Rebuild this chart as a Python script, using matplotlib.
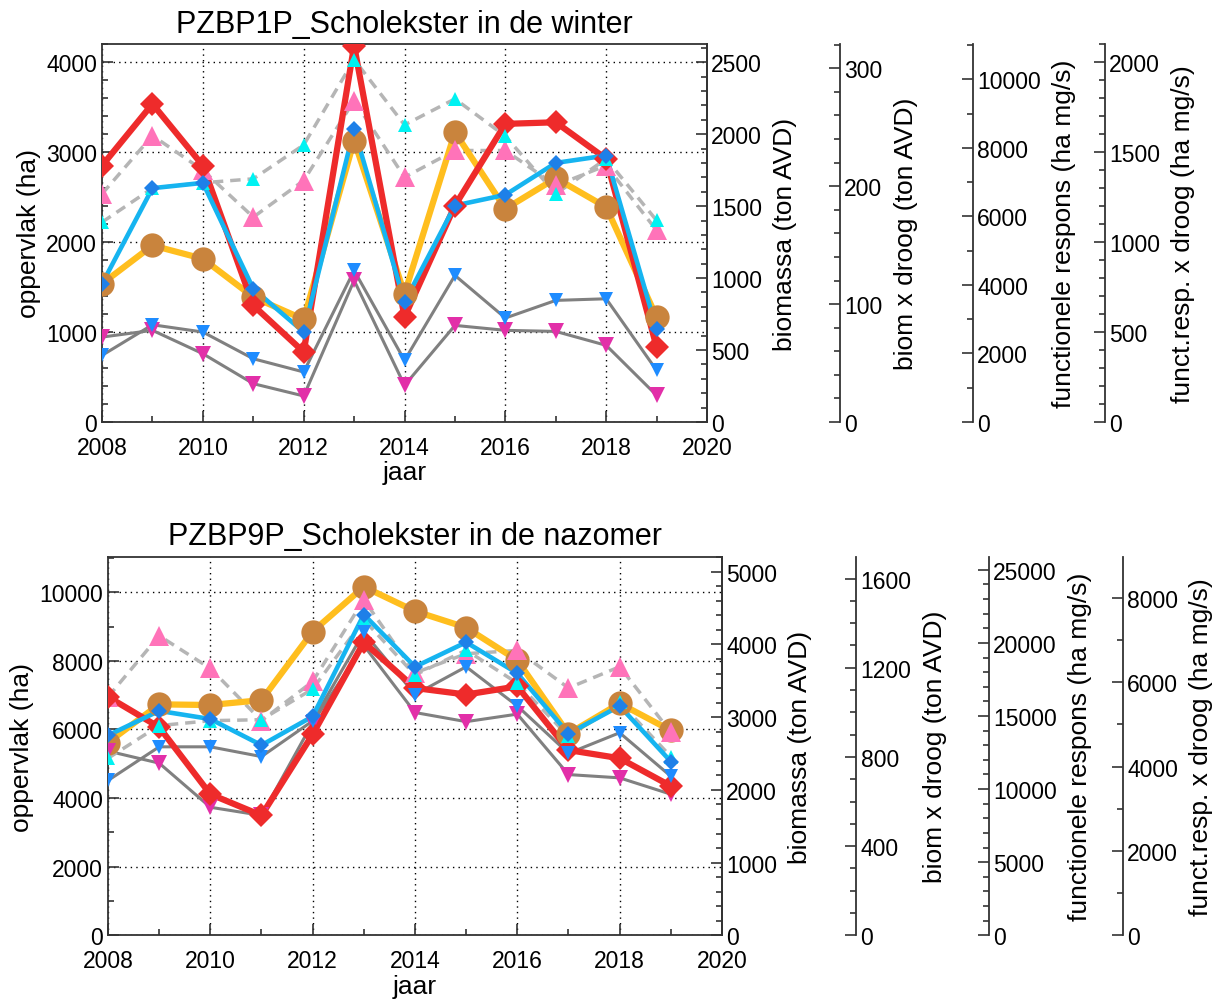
import matplotlib
matplotlib.use("Agg")
import matplotlib.pyplot as plt
from matplotlib.ticker import MultipleLocator

plt.rcParams['font.family'] = ['Liberation Sans', 'DejaVu Sans']

# ---- data (in units of the left axis) ----
years = list(range(2008, 2020))

# winter (PZBP1P)
red_w    = [2851, 3537, 2851, 1296, 778, 4185, 1167, 2407, 3315, 3333, 2926, 833]
blue_w   = [1537, 2600, 2659, 1481, 1000, 3259, 1333, 2407, 2526, 2881, 2963, 1030]
orange_w = [1537, 1963, 1815, 1389, 1141, 3130, 1426, 3222, 2370, 2711, 2389, 1167]
btri_w   = [741, 1081, 1000, 703, 556, 1685, 685, 1630, 1156, 1352, 1370, 574]
mtri_w   = [944, 1019, 759, 426, 289, 1574, 407, 1074, 1019, 1007, 852, 296]
cyan_w   = [2222, 2600, 2660, 2704, 3081, 4030, 3304, 3593, 3178, 2537, 2926, 2241]
pink_w   = [2537, 3185, 2800, 2278, 2685, 3574, 2722, 3019, 3019, 2630, 2852, 2130]

# nazomer (PZBP9P)
red_s    = [6952, 6067, 4114, 3495, 5857, 8543, 7210, 7019, 7257, 5400, 5162, 4352]
blue_s   = [5829, 6543, 6305, 5543, 6381, 9352, 7829, 8543, 7638, 5876, 6686, 5067]
orange_s = [5619, 6733, 6714, 6857, 8857, 10162, 9450, 8971, 8019, 5876, 6762, 5971]
btri_s   = [4514, 5495, 5495, 5210, 6250, 8829, 7019, 7829, 6686, 5305, 5905, 4638]
mtri_s   = [5371, 5019, 3733, 3495, 6200, 8450, 6495, 6229, 6448, 4686, 4590, 4114]
cyan_s   = [5162, 6114, 6257, 6286, 7181, 9200, 7590, 8314, 7352, 5800, 6800, 5210]
pink_s   = [6950, 8733, 7781, 6257, 7400, 9781, 7650, 8210, 8305, 7210, 7829, 5924]

# (line color, lw, linestyle, marker, marker color, marker size, marker zorder)
STYLES = {
    'btri':   ('#808080', 2.2, '-', 'v', '#1E8CFF', 9.5, 3.45),
    'mtri':   ('#808080', 2.2, '-', 'v', '#E22FA8', 12, 3.1),
    'cyan':   ('#B5B5B5', 2.5, (0, (3, 2)), '^', '#00F2F2', 9.5, 3.4),
    'pink':   ('#B5B5B5', 2.5, (0, (3, 2)), '^', '#FF73B9', 14, 3.2),
    'orange': ('#FFBE1E', 4.5, '-', 'o', '#C9843D', 17.5, 3.0),
    'red':    ('#EE2B2B', 4.5, '-', 'D', '#EE2B2B', 12, 3.3),
    'blue':   ('#16B4F0', 3.3, '-', 'D', '#1E80E8', 8.6, 3.5),
}

FS_TICK = 16.5
FS_LAB = 19
GRAY = '#333333'


def style_axis(a):
    a.tick_params(axis='both', which='both', direction='in', labelsize=FS_TICK,
                  colors=GRAY, labelcolor='black', width=1.2)
    a.tick_params(which='major', length=8)
    a.tick_params(which='minor', length=4.5)


def draw_panel(rect, title, data, ymax, ymaj, ymin, extras, ylab_pad=4):
    ax = fig.add_axes(rect)
    for key, vals in data:
        lc, lw, ls, mk, mc, ms, mz = STYLES[key]
        ax.plot(years, vals, color=lc, lw=lw, ls=ls, zorder=2)
        ax.plot(years, vals, ls='none', marker=mk, color=mc, ms=ms, mew=0, zorder=mz)
    ax.set_xlim(2008, 2020)
    ax.set_ylim(0, ymax)
    ax.xaxis.set_major_locator(MultipleLocator(2))
    ax.xaxis.set_minor_locator(MultipleLocator(1))
    ax.yaxis.set_major_locator(MultipleLocator(ymaj))
    ax.yaxis.set_minor_locator(MultipleLocator(ymin))
    ax.grid(True, which='major', color='black', ls=(0, (1, 3)), lw=1.0)
    style_axis(ax)
    ax.tick_params(top=False, right=False, which='both')
    ax.tick_params(axis='x', pad=10)
    for s in ax.spines.values():
        s.set_color(GRAY)
        s.set_linewidth(1.3)
    ax.set_xlabel('jaar', fontsize=FS_LAB, labelpad=1)
    ax.set_ylabel('oppervlak (ha)', fontsize=FS_LAB, labelpad=ylab_pad)
    ax.set_title(title, fontsize=22, pad=9)

    for pos, top, maj, mnr, lab in extras:
        tw = ax.twinx()
        tw.set_ylim(0, top)
        tw.yaxis.set_major_locator(MultipleLocator(maj))
        tw.yaxis.set_minor_locator(MultipleLocator(mnr))
        style_axis(tw)
        for side in ('left', 'top', 'bottom'):
            tw.spines[side].set_visible(False)
        tw.spines['right'].set_position(('axes', pos))
        tw.spines['right'].set_color(GRAY)
        tw.spines['right'].set_linewidth(1.3)
        tw.tick_params(pad=3)
        tw.set_ylabel(lab, fontsize=FS_LAB, labelpad=8)
    return ax


fig = plt.figure(figsize=(12.15, 10.03), dpi=100)

draw_panel([0.0840, 0.5783, 0.4979, 0.3768], 'PZBP1P_Scholekster in de winter',
           [('btri', btri_w), ('mtri', mtri_w), ('cyan', cyan_w), ('pink', pink_w),
            ('orange', orange_w), ('red', red_w), ('blue', blue_w)],
           4203, 1000, 200,
           [(1.0, 2627, 500, 100, 'biomassa (ton AVD)'),
            (1.22, 320.6, 100, 20, 'biom x droog (ton AVD)'),
            (1.44, 11030, 2000, 1000, 'functionele respons (ha mg/s)'),
            (1.658, 2102, 500, 100, 'funct.resp. x droog (ha mg/s)')])

draw_panel([0.0889, 0.0665, 0.5053, 0.3772], 'PZBP9P_Scholekster in de nazomer',
           [('btri', btri_s), ('mtri', mtri_s), ('cyan', cyan_s), ('pink', pink_s),
            ('orange', orange_s), ('red', red_s), ('blue', blue_s)],
           11030, 2000, 1000,
           [(1.0, 5203, 1000, 200, 'biomassa (ton AVD)'),
            (1.219, 1697, 400, 100, 'biom x droog (ton AVD)'),
            (1.435, 25880, 5000, 1000, 'functionele respons (ha mg/s)'),
            (1.653, 8970, 2000, 1000, 'funct.resp. x droog (ha mg/s)')])

fig.savefig('out.png', dpi=100)
